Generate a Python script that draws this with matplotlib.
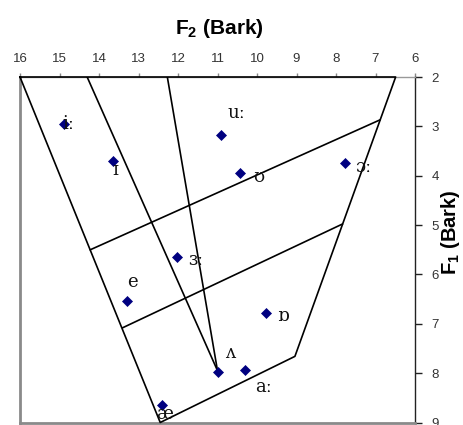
import numpy as np
import matplotlib.pyplot as plt

plt.rcParams['mathtext.default'] = 'regular'

# vowel formant means (Bark)
vowels = ['iː', 'ɪ', 'uː', 'ʊ', 'ɔː', 'ɜː', 'e', 'ʌ', 'æ', 'ɒ', 'aː']
f2 = [14.88, 13.64, 10.92, 10.43, 7.76, 12.02, 13.30, 11.00, 12.41, 9.77, 10.31]
f1 = [2.95, 3.70, 3.18, 3.95, 3.74, 5.64, 6.54, 7.97, 8.65, 6.79, 7.94]

# vowel quadrilateral outline
outline_f2 = [16.0, 6.49, 9.04, 12.45, 16.0]
outline_f1 = [2.0, 2.0, 7.66, 9.0, 2.0]

# inner division lines, (f2 start, f2 end), (f1 start, f1 end)
grid_f2 = [(14.22, 6.89), (13.40, 7.84), (14.30, 11.0), (12.27, 11.0)]
grid_f1 = [(5.50, 2.87), (7.08, 4.98), (2.0, 7.95), (2.0, 7.95)]

# label offsets in pixels from each point
label_dx = [4, 2, 16, 19, 18, 19, 6, 13, 3, 17, 19]
label_dy = [0, -9, 22, -4, -4, -3, 19, 19, -9, -3, -17]

fig = plt.figure(figsize=(4.64, 4.25), dpi=100)
ax = fig.add_axes([20/464, 1-422.5/425, 395/464, 345.5/425])

ax.plot(outline_f2, outline_f1, color='black', lw=1.2, clip_on=False, zorder=3)
for xs, ys in zip(grid_f2, grid_f1):
    ax.plot(xs, ys, color='black', lw=1.2, zorder=3)

ax.plot(f2, f1, 'D', color='#000080', ms=5.3, mew=0.5, zorder=4, clip_on=False)

for v, x, y, dx, dy in zip(vowels, f2, f1, label_dx, label_dy):
    ax.annotate(v, (x, y), xytext=(dx, dy), textcoords='offset pixels',
                ha='center', va='center', fontsize=13,
                family=['DejaVu Serif'], color='#111111', zorder=5)

ax.set_xlim(16, 6)
ax.set_ylim(9, 2)
ax.set_xticks(np.arange(6, 17, 1))
ax.set_yticks(np.arange(2, 10, 1))

ax.xaxis.tick_top()
ax.yaxis.tick_right()
ax.tick_params(axis='x', direction='out', length=3, width=1, color='#888888',
               pad=6, labelsize=9.5, labelcolor='#333333')
ax.tick_params(axis='y', direction='out', length=5, width=1, color='#222222',
               pad=7, labelsize=9.5, labelcolor='#333333')
for lab in ax.get_xticklabels() + ax.get_yticklabels():
    lab.set_family('Liberation Sans')

ax.spines['left'].set_color('#8a8a8a')
ax.spines['left'].set_linewidth(2)
ax.spines['bottom'].set_color('#8a8a8a')
ax.spines['bottom'].set_linewidth(2)
ax.spines['top'].set_color('#999999')
ax.spines['top'].set_linewidth(1)
ax.spines['right'].set_color('#222222')
ax.spines['right'].set_linewidth(1)

fig.text(219/464, 1-29/425, 'F$_2$ (Bark)', ha='center', va='center',
         fontsize=15, fontweight='bold', family='Liberation Sans')
fig.text(451/464, 1-232/425, 'F$_1$ (Bark)', ha='center', va='center',
         rotation=90, fontsize=14.5, fontweight='bold', family='Liberation Sans')

fig.savefig('out.png', dpi=100)
